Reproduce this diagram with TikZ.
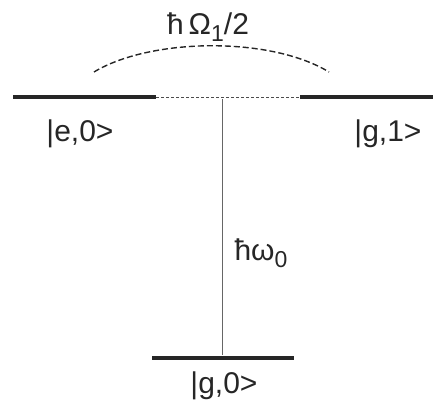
\documentclass[tikz,border=0pt]{standalone}
\usepackage{fontspec}
\setmainfont{Liberation Sans}
\usetikzlibrary{positioning}
\newcommand{\lowidx}[1]{\raisebox{-0.22em}{\fontsize{23}{25}\selectfont #1}}

\begin{document}
\begin{tikzpicture}[
    x=1pt, y=-1pt,
    level/.style={line width=4.5pt, black!85},
    gap/.style={densely dashed, line width=0.6pt, black!70},
    trans/.style={line width=0.9pt, black!60},
    coupling/.style={line width=1.4pt, dash pattern=on 6pt off 3pt, black!85},
    lbl/.style={font=\fontsize{30}{33}\selectfont, text=black!85, inner sep=0pt}
]
\useasboundingbox (0,0) rectangle (433,407);
% energy levels
\coordinate (e0l) at (13,97);
\coordinate (e0r) at (156,97);
\coordinate (g1l) at (300,97);
\coordinate (g1r) at (433,97);
\coordinate (g0l) at (152,358);
\coordinate (g0r) at (294,358);
\coordinate (top) at (222,99);
\coordinate (bot) at (222,355);
\draw[level] (e0l) -- (e0r);
\draw[level] (g1l) -- (g1r);
\draw[level] (g0l) -- (g0r);
\draw[gap] (e0r) -- (g1l);
\draw[trans] (top) -- (bot);
% coupling arc
\coordinate (arcl) at (94,72);
\coordinate (arcr) at (329,72);
\draw[coupling] (arcl) .. controls (150,38) and (270,36) .. (arcr);

\node[lbl] (rabi) at (208,27) {ħ\,Ω\lowidx{1}/2};
\node[lbl] (ke0) at (80,134) {|e,0>};
\node[lbl] (kg1) at (388,134) {|g,1>};
\node[lbl] (omega) at (261,253) {ħω\lowidx{0}};
\node[lbl] (kg0) at (224,386) {|g,0>};
\end{tikzpicture}
\end{document}
